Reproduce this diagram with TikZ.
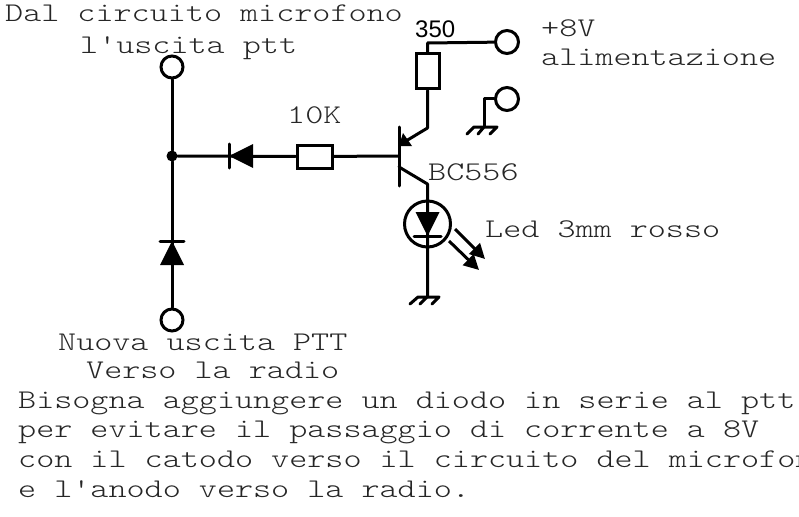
\documentclass[tikz,border=0pt]{standalone}
\usepackage{fontspec}
\usetikzlibrary{arrows.meta}
\newfontfamily\mn[FakeStretch=1.275]{Latin Modern Mono Light}
\newfontfamily\sn{Liberation Sans}
\tikzset{
  wire/.style={line width=3pt,line cap=round,line join=round},
  terminal/.style={circle,draw,line width=3pt,fill=white,minimum size=#1,inner sep=0pt},
  resistor/.style={rectangle,draw,line width=3pt,fill=white,inner sep=0pt,minimum width=#1},
  lab/.style={anchor=base west,inner sep=0pt,font=\mn\fontsize{27}{27}\selectfont,text=black!85},
  ray/.style={line width=3pt,-{Triangle[length=15pt,width=15pt]}}
}
\begin{document}
\begin{tikzpicture}[x=1pt,y=-1pt]
\useasboundingbox (0,0) rectangle (799,516);
\fill[white] (0,0) rectangle (799,516);
% labels
\node[lab] (t1) at (5,22) {Dal circuito microfono};
\node[lab] (t2) at (80,54) {l'uscita ptt};
\node[lab] (t3) at (541,37) {+8V};
\node[lab] (t4) at (541,66) {alimentazione};
\node[lab] (t5) at (287,123) {10K};
\node[lab] (t6) at (428,180) {BC556};
\node[lab] (t7) at (485,237) {Led 3mm rosso};
\node[lab] (t8) at (58,350) {Nuova uscita PTT};
\node[lab] (t9) at (86,378) {Verso la radio};
\node[lab] (t10) at (18,408) {Bisogna aggiungere un diodo in serie al ptt};
\node[lab] (t11) at (18,437) {per evitare il passaggio di corrente a 8V};
\node[lab] (t12) at (18,467) {con il catodo verso il circuito del microfon};
\node[lab] (t13) at (18,497) {e l'anodo verso la radio.};
\node[anchor=base west,inner sep=0pt,font=\sn\fontsize{24}{24}\selectfont] (r350) at (415,38) {350};
% nodes
\node[terminal=22pt] (tl) at (172,67) {};
\node[terminal=22pt] (bl) at (172,320) {};
\node[terminal=23pt] (vcc) at (507,42) {};
\node[terminal=23pt] (gnd) at (507,99) {};
\node[circle,fill=black,minimum size=11pt,inner sep=0pt] (j) at (172,156) {};
\node[resistor=35pt,minimum height=23pt] (r10k) at (314.5,156.5) {};
\node[resistor=23pt,minimum height=35pt] (r350b) at (427.5,71.5) {};
\coordinate (base) at (399,156);
\coordinate (e) at (427.5,128);
\coordinate (ebar) at (401,144);
\coordinate (c) at (427.5,184);
\coordinate (cbar) at (399,167);
\coordinate (vt) at (427.5,43);
\coordinate (g1) at (427.5,297);
\coordinate (g2) at (484,127);
\coordinate (gc) at (484,99);
\coordinate (ledc) at (427.5,224);
% wires
\draw[wire] (tl) -- (j);
\draw[wire] (j) -- (bl);
\draw[wire] (j) -- (r10k);
\draw[wire] (r10k) -- (base);
\draw[wire] (399,127) -- (399,186);
\draw[wire] (vcc) -- (vt) -- (r350b);
\draw[wire] (r350b) -- (e) -- (ebar);
\fill (399,146) -- (412,146) -- (403,133) -- cycle;
\draw[wire] (cbar) -- (c) -- (g1);
\draw[wire] (gnd) -- (gc) -- (g2);
% horizontal diode
\fill (229,156) -- (253,144) -- (253,168) -- cycle;
\draw[wire] (229,144) -- (229,168);
% vertical diode
\fill (172,241) -- (160,265) -- (184,265) -- cycle;
\draw[wire] (160,241) -- (184,241);
% LED
\draw[wire] (ledc) circle (23);
\fill (427.5,236) -- (415.5,212) -- (439.5,212) -- cycle;
\draw[wire] (414,236) -- (441,236);
\draw[ray] (455,229) -- (485,259);
\draw[ray] (449,241) -- (479,270);
% grounds
\draw[wire] (410,304) -- (418,297) -- (439,297) -- (432,304)
  (420,304) -- (427,297);
\draw[wire] (467,134) -- (474,127) -- (497,127) -- (490,134)
  (478,134) -- (484,127);
\end{tikzpicture}
\end{document}
